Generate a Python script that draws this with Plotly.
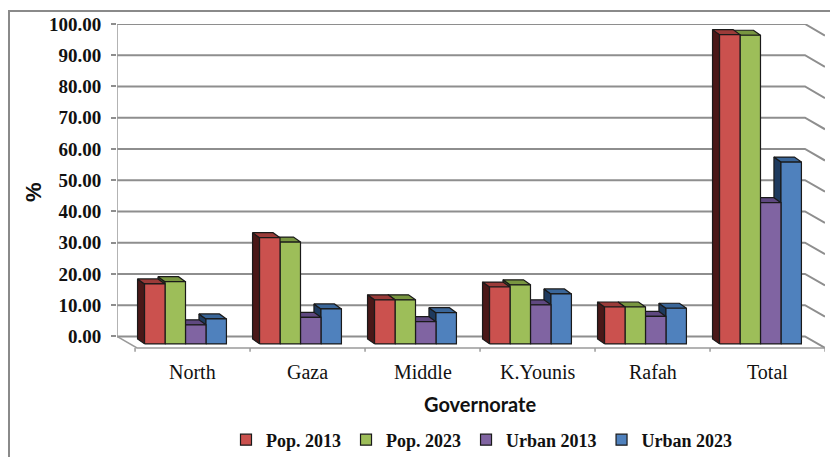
import plotly.graph_objects as go

# ---- data -------------------------------------------------------------
categories = ["North", "Gaza", "Middle", "K.Younis", "Rafah", "Total"]
series_names = ["Pop. 2013", "Pop. 2023", "Urban 2013", "Urban 2023"]
pop_2013 = [19.2, 34.0, 14.1, 18.2, 11.8, 99.0]
pop_2023 = [19.9, 32.6, 14.1, 18.9, 11.8, 98.8]
urban_2013 = [6.1, 8.5, 7.1, 12.5, 8.8, 45.2]
urban_2023 = [8.0, 11.2, 10.0, 16.0, 11.4, 58.2]
y_ticks = [0, 10, 20, 30, 40, 50, 60, 70, 80, 90, 100]

series_values = [pop_2013, pop_2023, urban_2013, urban_2023]

# ---- styles -----------------------------------------------------------
front_colors = ["#CB514E", "#9DBE59", "#8064A2", "#4F81BD"]
top_colors = ["#9B3B39", "#789640", "#5F4880", "#3A6699"]
side_colors = ["#4A1818", "#48592A", "#3A2B50", "#1E3A5E"]
edge_color = "#1A1A1A"
grid_color = "#8E8E8E"

# ---- pseudo-3D geometry (axis units) -----------------------------------
W, H = 830, 457
M_L, M_R, M_T, M_B = 117, 5, 24, 105
X_MIN, X_MAX = -0.5957, 5.561          # x axis range (category units)
Y_MIN, Y_MAX = -5, 100                 # y axis range
X_WALL_BACK_R = 5.387                  # right end of the back wall
FLOOR_DX, FLOOR_DY = 0.174, -3.7       # back wall -> front floor edge
BAR_W = 0.178                          # width of one column face
BAR_BASE = -2.4                        # bottom of the column front faces
DEPTH_DX, DEPTH_DY = -0.061, 1.6       # front face -> back face of a column
LABEL_DX = 0.061                       # category label offset from cluster centre
TICK_DROP = 1.2


def paper_x(px):
    return (px - M_L) / (W - M_L - M_R)


def paper_y(py):
    return (H - M_B - py) / (H - M_T - M_B)


fig = go.Figure()

# back wall gridlines continuing onto the side wall
gx, gy = [], []
for v in y_ticks:
    gx += [X_MIN, X_WALL_BACK_R, X_MAX, None]
    gy += [v, v, v + FLOOR_DY, None]
fig.add_trace(go.Scatter(x=gx, y=gy, mode="lines", hoverinfo="skip",
                         line=dict(color=grid_color, width=2), showlegend=False))

# value axis line, floor outline and category tick marks
n = len(categories)
floor_left_front = X_MIN + FLOOR_DX
ax_x = [X_MIN, X_MIN, None, X_MIN, floor_left_front, X_MAX, None]
ax_y = [Y_MAX, 0, None, 0, FLOOR_DY, FLOOR_DY, None]
for k in range(n + 1):
    xb = floor_left_front - 0.017 + k
    ax_x += [xb, xb, None]
    ax_y += [FLOOR_DY, FLOOR_DY - TICK_DROP, None]
fig.add_trace(go.Scatter(x=ax_x, y=ax_y, mode="lines", hoverinfo="skip",
                         line=dict(color="#9A9A9A", width=1.5), showlegend=False))


def polys(shapes):
    xs, ys = [], []
    for pts in shapes:
        for px, py in pts:
            xs.append(px)
            ys.append(py)
        xs.append(pts[0][0])
        ys.append(pts[0][1])
        xs.append(None)
        ys.append(None)
    return xs, ys


# columns: right-most series first so nearer faces paint over farther ones
n_series = len(series_values)
for s in reversed(range(n_series)):
    vals = series_values[s]
    sides, tops, fronts = [], [], []
    for i, v in enumerate(vals):
        x0 = i + (s - n_series / 2) * BAR_W
        x1 = x0 + BAR_W
        yt = BAR_BASE + v
        sides.append([(x0, BAR_BASE), (x0, yt), (x0 + DEPTH_DX, yt + DEPTH_DY),
                      (x0 + DEPTH_DX, BAR_BASE + DEPTH_DY)])
        tops.append([(x0, yt), (x1, yt), (x1 + DEPTH_DX, yt + DEPTH_DY),
                     (x0 + DEPTH_DX, yt + DEPTH_DY)])
        fronts.append([(x0, BAR_BASE), (x1, BAR_BASE), (x1, yt), (x0, yt)])
    for shapes, color in ((sides, side_colors[s]), (tops, top_colors[s]),
                          (fronts, front_colors[s])):
        xs, ys = polys(shapes)
        fig.add_trace(go.Scatter(x=xs, y=ys, mode="lines", fill="toself",
                                 fillcolor=color, hoverinfo="skip",
                                 line=dict(color=edge_color, width=1.2),
                                 showlegend=False))

# legend entries
for s in range(n_series):
    fig.add_trace(go.Scatter(
        x=[None], y=[None], mode="markers", name=series_names[s],
        marker=dict(symbol="square", size=11, color=front_colors[s],
                    line=dict(color=edge_color, width=1.2))))

# category labels under the floor
annotations = []
for i, c in enumerate(categories):
    annotations.append(dict(x=i + LABEL_DX, xref="x", y=paper_y(372), yref="paper",
                            text=c, showarrow=False, xanchor="center", yanchor="middle",
                            font=dict(family="Liberation Serif", size=20, color="#111")))
annotations.append(dict(x=paper_x(480), xref="paper", y=paper_y(404), yref="paper",
                        text="<b>Governorate</b>", showarrow=False,
                        xanchor="center", yanchor="middle",
                        font=dict(family="Lato", size=20, color="#111")))
annotations.append(dict(x=paper_x(33), xref="paper", y=paper_y(192), yref="paper",
                        text="<b>%</b>", showarrow=False, textangle=-90,
                        xanchor="center", yanchor="middle",
                        font=dict(family="Liberation Sans", size=22, color="#111")))

fig.update_layout(
    width=W, height=H,
    margin=dict(l=M_L, r=M_R, t=M_T, b=M_B, autoexpand=False),
    paper_bgcolor="white", plot_bgcolor="white",
    showlegend=True,
    legend=dict(orientation="h", x=paper_x(482), y=paper_y(440),
                xanchor="center", yanchor="middle", itemwidth=30,
                tracegroupgap=0,
                font=dict(family="Liberation Serif", size=18, color="#111",
                          weight="bold"),
                bgcolor="rgba(0,0,0,0)"),
    xaxis=dict(range=[X_MIN, X_MAX], showgrid=False, zeroline=False,
               showticklabels=False, ticks="", showline=False, fixedrange=True),
    yaxis=dict(range=[Y_MIN, Y_MAX], tickvals=y_ticks,
               ticktext=[f"{v:.2f}" for v in y_ticks],
               ticks="outside", ticklen=5, tickcolor="#8E8E8E", tickwidth=1.5,
               ticklabelstandoff=6,
               tickfont=dict(family="Liberation Serif", size=19, color="#111",
                             weight="bold"),
               showgrid=False, zeroline=False, showline=False, fixedrange=True),
    annotations=annotations,
    shapes=[dict(type="rect", xref="paper", yref="paper",
                 x0=paper_x(9), x1=paper_x(840), y0=paper_y(11), y1=paper_y(470),
                 line=dict(color="#8A8A8A", width=2), fillcolor="rgba(0,0,0,0)",
                 layer="below")],
)

fig.write_html("out.html")
